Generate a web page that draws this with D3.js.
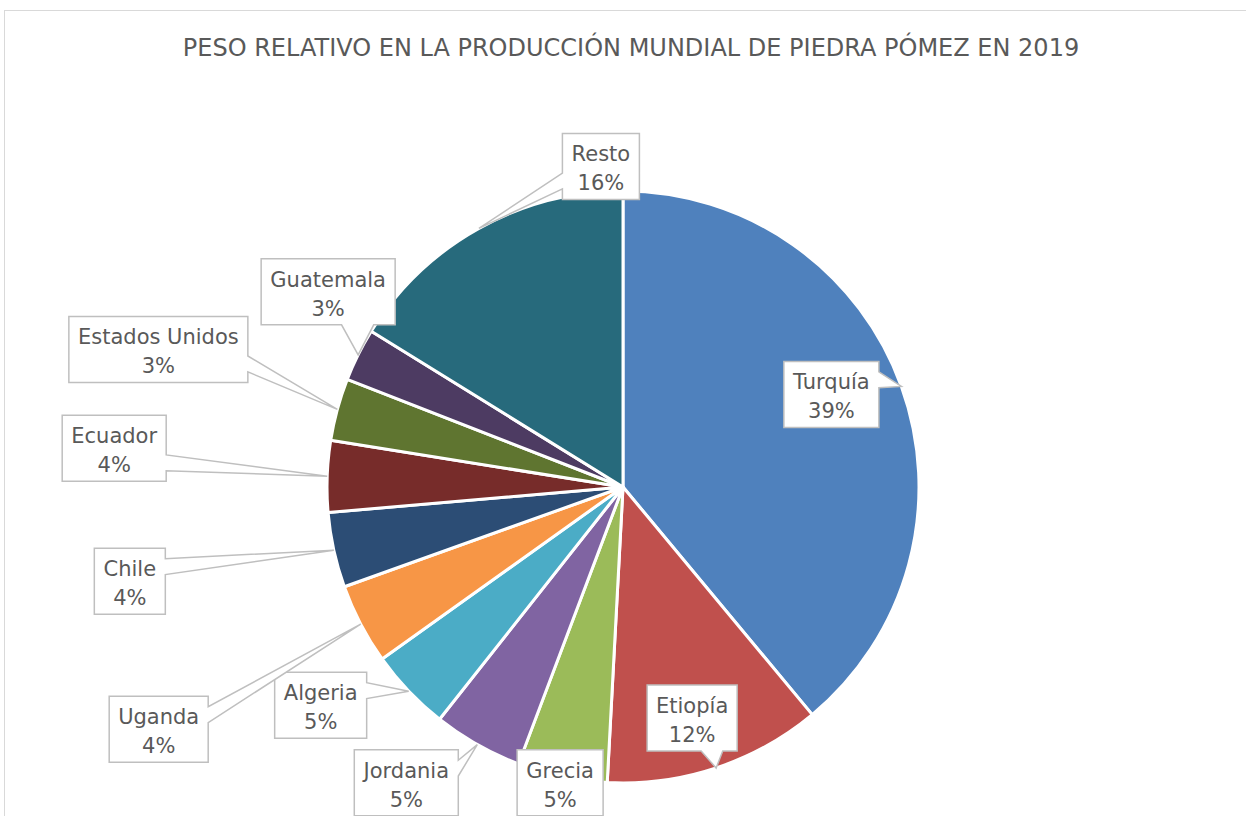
<!DOCTYPE html>
<html>
<head>
<meta charset="utf-8">
<script src="https://cdn.jsdelivr.net/npm/d3@7"></script>
<style>
  body { margin: 0; background: #fff; }
  text { font-family: "DejaVu Sans", sans-serif; fill: #595959; }
</style>
</head>
<body>
<script>
// Data
var countries = ["Turquía", "Etiopía", "Grecia", "Jordania", "Algeria", "Uganda",
                 "Chile", "Ecuador", "Estados Unidos", "Guatemala", "Resto"];
var shares = [39.0, 11.9, 4.9, 4.9, 4.5, 4.4, 4.1, 3.9, 3.4, 2.9, 16.2];
var pctLabels = ["39%", "12%", "5%", "5%", "5%", "4%", "4%", "4%", "3%", "3%", "16%"];
var colors = ["#4F81BD", "#C0504D", "#9BBB59", "#8064A2", "#4BACC6", "#F79646",
              "#2C4D75", "#772C2A", "#5F7530", "#4D3B62", "#276A7C"];

// label box centre offsets from the anchor point on the pie edge (layout only)
var labelOffsets = [[-70, 8], [-24, -50], [-2, 6], [-71, 38], [-88, 14], [-202, 105],
                    [-204, 31], [-213, -28], [-179, -60], [-30, -63], [122, -62]];

var width = 1246, height = 816;
var cx = 623, cy = 487, radius = 296;

var svg = d3.select("body").append("svg")
    .attr("width", width)
    .attr("height", height);

// chart area border
svg.append("rect")
    .attr("x", 4.5).attr("y", 10.5)
    .attr("width", width + 20).attr("height", height + 20)
    .attr("fill", "#fff")
    .attr("stroke", "#D9D9D9");

// Title
svg.append("text")
    .attr("x", 631)
    .attr("y", 56)
    .attr("text-anchor", "middle")
    .style("font-size", "24px")
    .text("PESO RELATIVO EN LA PRODUCCIÓN MUNDIAL DE PIEDRA PÓMEZ EN 2019");

var data = countries.map(function(c, i) {
    return {name: c, value: shares[i], pct: pctLabels[i], color: colors[i], off: labelOffsets[i]};
});

var pie = d3.pie().sort(null).value(d => d.value);
var arc = d3.arc().innerRadius(0).outerRadius(radius);
var arcs = pie(data);

var g = svg.append("g").attr("transform", "translate(" + cx + "," + cy + ")");

g.selectAll(".slice")
    .data(arcs)
    .enter().append("path")
    .attr("class", "slice")
    .attr("d", arc)
    .attr("fill", d => d.data.color)
    .attr("stroke", "#fff")
    .attr("stroke-width", 3)
    .attr("stroke-linejoin", "round");

// Callout labels
var boxH = 66;
var labels = g.selectAll(".label")
    .data(arcs)
    .enter().append("g")
    .attr("class", "label");

labels.each(function(d) {
    var sel = d3.select(this);
    var mid = (d.startAngle + d.endAngle) / 2;
    var ax = radius * Math.sin(mid), ay = -radius * Math.cos(mid);
    var bx = ax + d.data.off[0], by = ay + d.data.off[1];

    var path = sel.append("path");
    var t1 = sel.append("text")
        .attr("x", bx).attr("y", by - 5)
        .attr("text-anchor", "middle")
        .style("font-size", "21px")
        .text(d.data.name);
    sel.append("text")
        .attr("x", bx).attr("y", by + 24)
        .attr("text-anchor", "middle")
        .style("font-size", "21px")
        .text(d.data.pct);

    var bw = Math.round(t1.node().getComputedTextLength() + 18);
    var l = bx - bw / 2, r = bx + bw / 2, t = by - boxH / 2, b = by + boxH / 2;

    // which side the wedge leaves from
    var dx = ax - bx, dy = ay - by;
    var inside = Math.abs(dx) < bw / 2 && Math.abs(dy) < boxH / 2;
    var side = null;
    if (!inside) {
        if (Math.abs(dx) / (bw / 2) > Math.abs(dy) / (boxH / 2)) side = dx > 0 ? "right" : "left";
        else side = dy > 0 ? "bottom" : "top";
    }
    var f1 = 0.16, f2 = 0.40;
    var p = d3.path();
    p.moveTo(l, t);
    if (side === "top") {
        var a1 = dx > 0 ? l + bw * (1 - f2) : l + bw * f1,
            a2 = dx > 0 ? l + bw * (1 - f1) : l + bw * f2;
        p.lineTo(a1, t); p.lineTo(ax, ay); p.lineTo(a2, t);
    }
    p.lineTo(r, t);
    if (side === "right") {
        var c1 = dy > 0 ? t + boxH * (1 - f2) : t + boxH * f1,
            c2 = dy > 0 ? t + boxH * (1 - f1) : t + boxH * f2;
        p.lineTo(r, c1); p.lineTo(ax, ay); p.lineTo(r, c2);
    }
    p.lineTo(r, b);
    if (side === "bottom") {
        var e1 = dx > 0 ? l + bw * (1 - f1) : l + bw * f2,
            e2 = dx > 0 ? l + bw * (1 - f2) : l + bw * f1;
        p.lineTo(e1, b); p.lineTo(ax, ay); p.lineTo(e2, b);
    }
    p.lineTo(l, b);
    if (side === "left") {
        var h1 = dy > 0 ? t + boxH * (1 - f1) : t + boxH * f2,
            h2 = dy > 0 ? t + boxH * (1 - f2) : t + boxH * f1;
        p.lineTo(l, h1); p.lineTo(ax, ay); p.lineTo(l, h2);
    }
    p.closePath();

    path.attr("d", p.toString())
        .attr("fill", "#fff")
        .attr("stroke", "#BFBFBF")
        .attr("stroke-width", 1.5);
});
</script>
</body>
</html>
